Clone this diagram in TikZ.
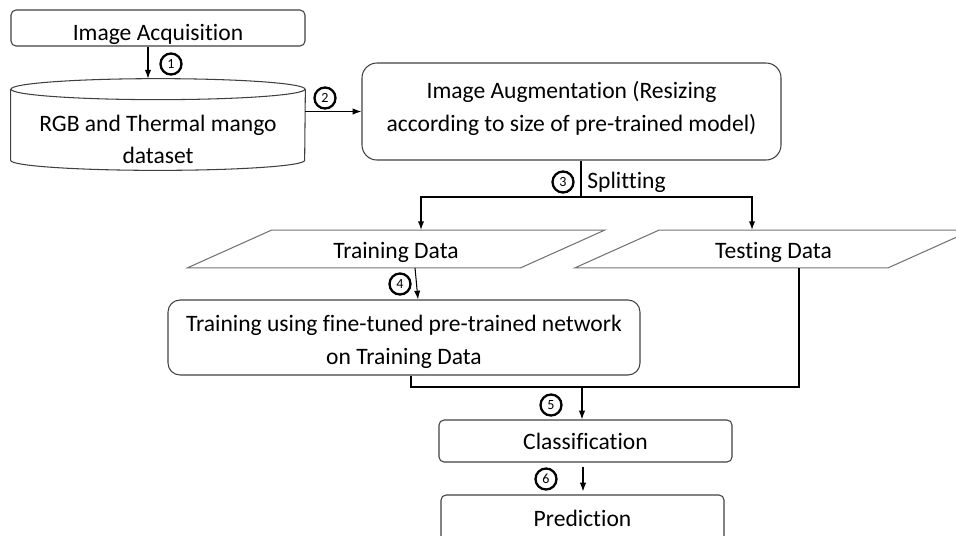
\documentclass[tikz,border=0pt]{standalone}
\usepackage{fontspec}
\setmainfont{Carlito}[Ligatures=NoCommon]
\usetikzlibrary{arrows.meta, calc}
\tikzset{flow/.style={-{Latex[length=5pt,width=3.6pt]}, line width=.6pt}}
\tikzset{stage/.style={draw=black!75, line width=.6pt, rounded corners=#1, align=center, inner sep=0pt}, stage/.default=.1cm}
\tikzset{storage/.style={draw=black!75, line width=.6pt}}
\tikzset{datafile/.style={draw=black!55, line width=.6pt}}
\newcommand{\slant}{.84cm}
\newcommand{\slantbox}[1]{\draw[datafile] ([xshift=-\slant]#1.south west) -- ([xshift=-\slant]#1.south east)
  -- ([xshift=\slant]#1.north east) -- ([xshift=\slant]#1.north west) -- cycle;}
\newcommand{\stepno}[2]{ node[circle, draw, line width=1.3pt, inner sep=0pt, minimum size=.42cm, font=\fontsize{8}{9}\selectfont, name={#1}] {#2}}

\begin{document}
\begin{tikzpicture}[font=\fontsize{13.4}{18.7}\selectfont]
  \useasboundingbox (0,0) rectangle (19.12,-10.7);
  \clip (0,0) rectangle (19.12,-10.7);

  % --- acquisition and dataset ---
  \node[stage, minimum width=5.88cm, minimum height=.72cm, text height=15pt, text depth=1pt] (acq) at (3.16,-.56) {Image Acquisition};
  \node[minimum width=5.88cm, minimum height=1.82cm, inner sep=0pt, align=center, text height=45pt] (data) at (3.16,-2.49) {RGB and Thermal mango\\dataset};
  \draw[storage] ([yshift=-.21cm]data.north) ellipse [x radius=2.94cm, y radius=.21cm];
  \draw[storage] ([yshift=-.21cm]data.north west) -- ([yshift=.2cm]data.south west)
    arc[start angle=180, end angle=360, x radius=2.94cm, y radius=.2cm] -- ([yshift=-.21cm]data.north east);
  \draw[flow] ([xshift=-.2cm]acq.south) -- ([xshift=-.2cm]acq.south |- data.north);
  \draw (3.42,-1.28) \stepno{c1}{1};

  % --- augmentation ---
  \node[stage=.3cm, minimum width=8.38cm, minimum height=1.94cm, text height=24.5pt] (aug) at (11.43,-2.23) {Image Augmentation (Resizing\\according to size of pre-trained model)};
  \draw[flow] (data.east |- aug.west) -- (aug.west);
  \draw (6.5,-1.96) \stepno{c2}{2};

  % --- splitting ---
  \node[minimum width=6.65cm, minimum height=.74cm, inner sep=0pt, text height=13.3pt] (train) at (7.92,-4.98) {Training Data};
  \slantbox{train}
  \node[minimum width=6.25cm, minimum height=.74cm, inner sep=0pt, text height=13.3pt] (test) at (15.47,-4.98) {Testing Data};
  \slantbox{test}
  \coordinate (split) at (11.62,-3.94);
  \draw[line width=.9pt] (aug.south -| split) -- (split);
  \draw[flow, line width=.9pt] (split) -| ([xshift=.5cm]train.north);
  \draw[flow, line width=.9pt] (split) -| ([xshift=-.43cm]test.north);
  \draw (11.26,-3.64) \stepno{c3}{3};
  \node[anchor=west, inner sep=0pt] (splitlbl) at (11.74,-3.64) {Splitting};

  % --- training ---
  \node[stage=.24cm, minimum width=9.44cm, minimum height=1.5cm, text height=33pt] (net) at (8.08,-6.75) {Training using fine-tuned pre-trained network\\on Training Data};
  \draw[flow] ([xshift=.38cm]train.south) -- ([xshift=.28cm]net.north);
  \draw (8.0,-5.68) \stepno{c4}{4};

  % --- merge, classification and prediction ---
  \node[stage, minimum width=5.86cm, minimum height=.84cm] (cls) at (11.71,-8.82) {Classification};
  \node[stage, minimum width=5.66cm, minimum height=.92cm] (pred) at (11.65,-10.36) {Prediction};
  \coordinate (merge) at (11.64,-7.74);
  \draw[line width=1pt] ([xshift=.14cm]net.south) |- (merge) -| ([xshift=.51cm]test.south);
  \draw[flow] (merge) -- (merge |- cls.north);
  \draw (11.02,-8.1) \stepno{c5}{5};
  \draw[flow, shorten <=.08cm, shorten >=.06cm] ([xshift=-.05cm]cls.south) -- ([xshift=-.05cm]cls.south |- pred.north);
  \draw (10.92,-9.58) \stepno{c6}{6};
\end{tikzpicture}
\end{document}
